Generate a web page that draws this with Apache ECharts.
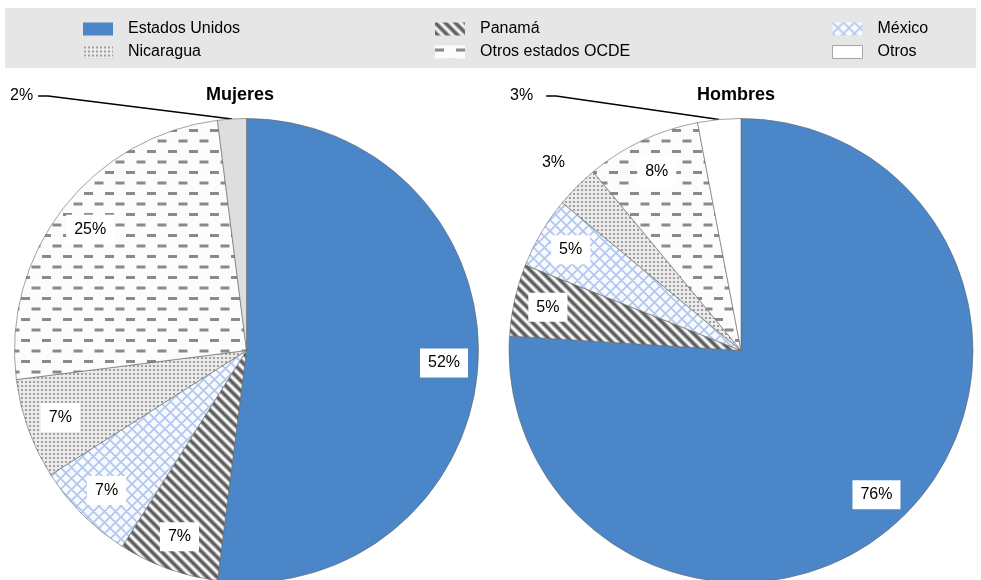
<!DOCTYPE html>
<html><head><meta charset="utf-8">
<script src="https://cdn.jsdelivr.net/npm/echarts@6/dist/echarts.min.js"></script>
<style>html,body{margin:0;padding:0;background:#fff}#c{width:981px;height:580px}</style>
</head><body><div id="c"></div>
<script>
// ---- data ----
const categories = ['Estados Unidos', 'Panamá', 'México', 'Nicaragua', 'Otros estados OCDE', 'Otros'];
const mujeresValues = [52, 7, 7, 7, 25, 2];
const hombresValues = [76, 5, 5, 3, 8, 3];
const pieTitles = ['Mujeres', 'Hombres'];
const legendColumns = [['Estados Unidos', 'Nicaragua'], ['Panamá', 'Otros estados OCDE'], ['México', 'Otros']];

// ---- styles / layout ----
const FONT = "'Liberation Sans', Arial, sans-serif";
const FS = 16;
const R = 232;
const centers = [[246.5, 350.5], [741, 350.5]];
const titleX = [240, 736];
const outLabel = [{ x: 10, gap: 5 }, { x: 510, gap: 13 }];
const legendLeft = [83, 435, 832];

function tile(w, h, draw) {
  const c = document.createElement('canvas');
  c.width = w; c.height = h;
  const ctx = c.getContext('2d');
  draw(ctx, w, h);
  return { image: c, repeat: 'repeat' };
}
const stripes = tile(10, 10, (ctx, p) => {
  ctx.fillStyle = '#ffffff'; ctx.fillRect(0, 0, p, p);
  [['#b8b8b8', 5.2], ['#5e5e5e', 2.8]].forEach(([col, w]) => {
    ctx.strokeStyle = col; ctx.lineWidth = w; ctx.beginPath();
    for (let k = -2; k <= 2; k++) { ctx.moveTo(k * p - p, -p); ctx.lineTo(k * p + 2 * p, 2 * p); }
    ctx.stroke();
  });
});
const cross = tile(11, 11, (ctx, p) => {
  ctx.fillStyle = '#f8faff'; ctx.fillRect(0, 0, p, p);
  ctx.strokeStyle = '#b3c8ee'; ctx.lineWidth = 1.8; ctx.beginPath();
  for (let k = -2; k <= 2; k++) {
    ctx.moveTo(k * p - p, -p); ctx.lineTo(k * p + 2 * p, 2 * p);
    ctx.moveTo(k * p + p, -p); ctx.lineTo(k * p - 2 * p, 2 * p);
  }
  ctx.stroke();
});
const dots = tile(4, 4, (ctx, p) => {
  ctx.fillStyle = '#ebebeb'; ctx.fillRect(0, 0, p, p);
  ctx.fillStyle = '#8e8e8e'; ctx.beginPath(); ctx.arc(2, 2, 1.1, 0, Math.PI * 2); ctx.fill();
});
const dashes = tile(21, 21, (ctx, w, h) => {
  ctx.fillStyle = '#fcfcfc'; ctx.fillRect(0, 0, w, h);
  ctx.fillStyle = '#8a8a8a';
  ctx.fillRect(0, 3, 9, 3);
  ctx.fillRect(10.5, 13.5, 9, 3);
});
const fills = ['#4a86c8', stripes, cross, dots, dashes];
const otrosFill = ['#dedede', '#ffffff'];

const chart = echarts.init(document.getElementById('c'));
const series = [];
const valueSets = [mujeresValues, hombresValues];

valueSets.forEach((vals, pi) => {
  const center = centers[pi];
  series.push({
    type: 'pie', center: center, radius: R, startAngle: 90, clockwise: true,
    silent: true, animation: false, label: { show: false }, labelLine: { show: false },
    itemStyle: { borderColor: '#666666', borderWidth: 0.6 },
    data: categories.map((name, i) => ({
      name, value: vals[i], itemStyle: { color: i < 5 ? fills[i] : otrosFill[pi] }
    }))
  });
  series.push({
    type: 'pie', center: center, radius: [R * 0.68, R], startAngle: 90, clockwise: true,
    silent: true, animation: false, avoidLabelOverlap: false,
    itemStyle: { color: 'rgba(0,0,0,0)', borderWidth: 0 },
    label: {
      show: true, position: 'inside', formatter: '{c}%', color: '#000', fontSize: FS,
      fontFamily: FONT, backgroundColor: '#ffffff', padding: [7, 8, 6, 8]
    },
    labelLine: { show: false },
    labelLayout: function (params) {
      if (params.dataIndex !== 5) return {};
      const o = outLabel[pi];
      const w = params.labelRect.width;
      const y = 96;
      const p0 = params.labelLinePoints ? params.labelLinePoints[0] : null;
      const res = { x: o.x, y: y, align: 'left', verticalAlign: 'middle' };
      if (p0) res.labelLinePoints = [p0, [o.x + w + o.gap + 10, y], [o.x + w + o.gap, y]];
      return res;
    },
    data: categories.map((name, i) => {
      const d = { name, value: vals[i] };
      if (i === 5) {
        d.label = { position: 'outside', backgroundColor: 'transparent', padding: 0 };
        d.labelLine = { show: true, length: 10, length2: 10, lineStyle: { color: '#000', width: 1.5 } };
      } else if (pi === 1 && i === 3) {
        d.label = { show: false };
      }
      return d;
    })
  });
  if (pi === 1) {
    series.push({
      type: 'pie', center: center, radius: [R, R * 1.26], startAngle: 90, clockwise: true,
      silent: true, animation: false, avoidLabelOverlap: false,
      itemStyle: { color: 'rgba(0,0,0,0)', borderWidth: 0 },
      label: { show: false },
      labelLine: { show: false },
      data: categories.map((name, i) => {
        const d = { name, value: vals[i] };
        if (i === 3) d.label = { show: true, position: 'inside', formatter: '{c}%', color: '#000', fontSize: FS, fontFamily: FONT };
        return d;
      })
    });
  }
});

const legends = legendColumns.map((names, ci) => ({
  orient: 'vertical', left: legendLeft[ci], top: 21, padding: 0,
  itemWidth: 30, itemHeight: 13, itemGap: 7, icon: 'rect', selectedMode: false,
  itemStyle: { borderWidth: 0 },
  textStyle: { color: '#000', fontSize: FS, fontFamily: FONT, lineHeight: 16, padding: [0, 0, 0, 10] },
  data: names.map(n => n === 'Otros'
    ? { name: n, itemStyle: { color: '#ffffff', borderColor: '#a6a6a6', borderWidth: 1 } }
    : { name: n })
}));

chart.setOption({
  animation: false,
  backgroundColor: '#ffffff',
  graphic: [{ type: 'rect', shape: { x: 5, y: 8, width: 971, height: 60 }, style: { fill: '#e6e6e6' }, z: -10, silent: true }],
  title: pieTitles.map((t, i) => ({
    text: t, left: titleX[i], top: 86, textAlign: 'center', padding: 0,
    textStyle: { fontSize: 18, fontWeight: 'bold', color: '#000', fontFamily: FONT }
  })),
  legend: legends,
  series: series
});
</script>
</body></html>
